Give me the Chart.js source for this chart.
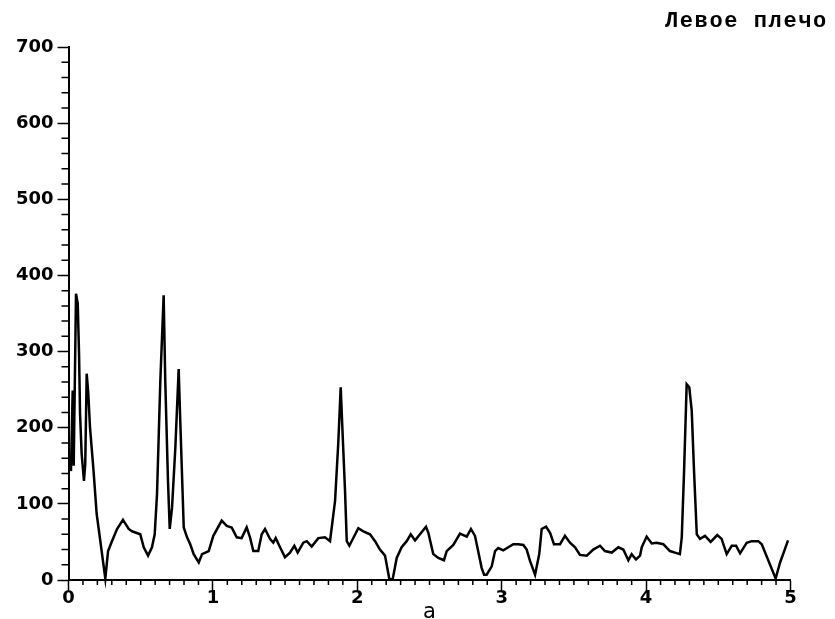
<!DOCTYPE html>
<html>
<head>
<meta charset="utf-8">
<script src="https://cdn.jsdelivr.net/npm/chart.js@4.4.0/dist/chart.umd.min.js"></script>
<style>
  html, body { margin: 0; padding: 0; background: #fff; }
</style>
</head>
<body>
<canvas id="chart" width="835" height="619"></canvas>
<script>
// values (a, amplitude)
const aValues = [
  0.017, 0.029, 0.036, 0.052, 0.064, 0.073, 0.080, 0.091, 0.107, 0.116, 0.126, 0.137, 0.149, 0.172, 0.195,
  0.255, 0.274, 0.301, 0.336, 0.377, 0.417, 0.440, 0.497, 0.521, 0.551, 0.578, 0.597, 0.613, 0.636, 0.659,
  0.670, 0.689, 0.701, 0.717, 0.740, 0.763, 0.774, 0.798, 0.821, 0.843, 0.867, 0.902, 0.925, 0.971,
  1.003, 1.061, 1.096, 1.130, 1.165, 1.199, 1.234, 1.257, 1.280, 1.314, 1.338, 1.361, 1.395, 1.418, 1.435,
  1.465, 1.499, 1.534, 1.564, 1.587, 1.626, 1.650, 1.684, 1.730, 1.776, 1.811, 1.846, 1.868, 1.885, 1.901,
  1.915, 1.927, 1.945,
  2.007, 2.042, 2.088, 2.123, 2.157, 2.192, 2.222, 2.245, 2.273, 2.307, 2.342, 2.370, 2.400, 2.434, 2.476,
  2.492, 2.526, 2.561, 2.600, 2.619, 2.665, 2.711, 2.758, 2.787, 2.815, 2.861, 2.878, 2.896, 2.931, 2.954,
  2.976, 3.011, 3.046, 3.080, 3.115, 3.150, 3.173, 3.196, 3.231, 3.260, 3.277, 3.307, 3.335, 3.362, 3.404,
  3.438, 3.473, 3.508, 3.542, 3.589, 3.634, 3.681, 3.715, 3.762, 3.808, 3.842, 3.877, 3.900, 3.930, 3.958,
  3.970, 4.004, 4.039, 4.073, 4.119, 4.165, 4.200, 4.234, 4.247, 4.263, 4.281, 4.299, 4.316, 4.332, 4.351,
  4.373, 4.408, 4.447, 4.493, 4.523, 4.558, 4.593, 4.623, 4.651, 4.697, 4.731, 4.777, 4.801, 4.897, 4.928,
  4.983
];
const levels = [
  143, 249, 150, 376, 363, 297, 218, 166, 130, 152, 271, 245, 200, 147, 87,
  2, 38, 51, 67, 79, 67, 64, 60, 43, 32, 43, 60, 113, 262, 374,
  262, 130, 67, 95, 174, 277, 209, 69, 56, 47, 34, 23, 34, 38,
  58, 78, 71, 69, 56, 55, 69, 56, 38, 38, 60, 67, 54, 49, 55,
  43, 30, 36, 45, 36, 49, 51, 44, 55, 56, 51, 104, 179, 253, 180,
  117, 51, 45,
  68, 64, 60, 51, 40, 32, 1, 1, 29, 43, 51, 60, 52, 60, 70,
  62, 34, 29, 26, 38, 46, 61, 57, 67, 58, 16, 7, 7, 18, 38,
  42, 39, 43, 47, 47, 46, 40, 25, 7, 34, 67, 70, 62, 47, 47,
  58, 49, 43, 33, 32, 40, 45, 38, 36, 43, 40, 26, 34, 27, 32,
  43, 57, 48, 49, 47, 38, 36, 34, 56, 143, 257, 253, 222, 143, 60,
  54, 58, 50, 59, 54, 34, 45, 45, 35, 49, 51, 51, 47, 2, 23,
  52
];
const xTickLabels = [0, 1, 2, 3, 4, 5];
const yTickLabels = [0, 100, 200, 300, 400, 500, 600, 700];
const xMinorStep = 0.1;
const yMinorStep = 20;
const titleText = 'Левое плечо';
const xAxisTitle = 'a';

const points = aValues.map((a, i) => ({ x: a, y: levels[i] }));

// small ticks between the labelled ones
const minorTicks = {
  id: 'minorTicks',
  afterDraw(chart) {
    const { ctx, scales: { x, y } } = chart;
    ctx.save();
    ctx.strokeStyle = '#000';
    ctx.lineWidth = 1.5;
    ctx.beginPath();
    const xMin = xTickLabels[0], xMax = xTickLabels[xTickLabels.length - 1];
    for (let i = 1; xMin + i * xMinorStep < xMax - 1e-6; i++) {
      const v = xMin + i * xMinorStep;
      if (Math.abs(v - Math.round(v)) < 1e-6) continue;
      const px = x.getPixelForValue(v);
      ctx.moveTo(px, y.bottom);
      ctx.lineTo(px, y.bottom + 5);
    }
    const yMax = yTickLabels[yTickLabels.length - 1];
    for (let v = yMinorStep; v < yMax; v += yMinorStep) {
      if (v % 100 === 0) continue;
      const py = y.getPixelForValue(v);
      ctx.moveTo(x.left, py);
      ctx.lineTo(x.left - 7, py);
    }
    ctx.stroke();
    ctx.restore();
  }
};

// the heading in the top right corner
const cornerTitle = {
  id: 'cornerTitle',
  afterDraw(chart) {
    const { ctx } = chart;
    ctx.save();
    ctx.font = 'bold 22px "Liberation Mono", "DejaVu Sans Mono", monospace';
    ctx.fillStyle = '#000';
    ctx.textAlign = 'left';
    ctx.textBaseline = 'alphabetic';
    if ('letterSpacing' in ctx) ctx.letterSpacing = '1.6px';
    ctx.fillText(titleText, 665, 27);
    ctx.restore();
  }
};

const tickFont = { family: '"DejaVu Sans", sans-serif', size: 18, weight: 'bold' };

new Chart(document.getElementById('chart'), {
  type: 'line',
  data: {
    datasets: [{
      data: points,
      borderColor: '#000',
      borderWidth: 2.5,
      pointRadius: 0,
      tension: 0,
      fill: false,
      clip: false
    }]
  },
  options: {
    responsive: false,
    animation: false,
    devicePixelRatio: 1,
    layout: { padding: { top: 47, right: 44.5, left: 0, bottom: 0 } },
    plugins: { legend: { display: false }, tooltip: { enabled: false }, title: { display: false } },
    scales: {
      x: {
        type: 'linear',
        min: xTickLabels[0],
        max: xTickLabels[xTickLabels.length - 1],
        afterBuildTicks: s => { s.ticks = xTickLabels.map(v => ({ value: v })); },
        afterFit: s => { s.height = 39; },
        border: { display: true, color: '#000', width: 2 },
        grid: { drawOnChartArea: false, drawTicks: true, tickLength: 10, tickColor: '#000', tickWidth: 1.5 },
        ticks: { color: '#000', font: tickFont, padding: -2, maxRotation: 0, autoSkip: false },
        title: {
          display: true,
          text: xAxisTitle,
          color: '#000',
          font: { family: '"DejaVu Sans", sans-serif', size: 21 },
          padding: { top: 0, bottom: -6 }
        }
      },
      y: {
        min: yTickLabels[0],
        max: yTickLabels[yTickLabels.length - 1],
        afterBuildTicks: s => { s.ticks = yTickLabels.map(v => ({ value: v })); },
        afterFit: s => { s.width = 68.5; },
        border: { display: true, color: '#000', width: 2 },
        grid: { drawOnChartArea: false, drawTicks: true, tickLength: 11, tickColor: '#000', tickWidth: 1.5 },
        ticks: { color: '#000', font: tickFont, padding: 4 }
      }
    }
  },
  plugins: [minorTicks, cornerTitle]
});
</script>
</body>
</html>
